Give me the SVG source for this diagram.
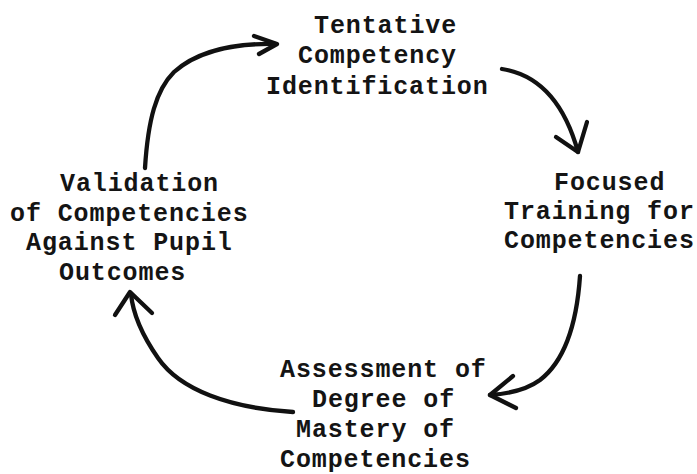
<svg xmlns="http://www.w3.org/2000/svg" width="697" height="474" viewBox="0 0 697 474">
  <style>
    .lbl { font-family: "Liberation Mono", "DejaVu Sans Mono", monospace; font-weight: bold; font-size: 25px; letter-spacing: 0.9px; fill: #141414; }
    .edge { fill: none; stroke: #111; stroke-width: 4.3; stroke-linecap: round; stroke-linejoin: round; }
    .head { fill: none; stroke: #111; stroke-width: 4.3; stroke-linecap: round; stroke-linejoin: round; }
  </style>
  <rect width="697" height="474" fill="#ffffff"/>

  <!-- cycle stages -->
  <g id="node-identification">
    <text class="lbl" x="314" y="33">Tentative</text>
    <text class="lbl" x="298" y="63">Competency</text>
    <text class="lbl" x="266" y="94">Identification</text>
  </g>
  <g id="node-training">
    <text class="lbl" x="554" y="190">Focused</text>
    <text class="lbl" x="504" y="219">Training for</text>
    <text class="lbl" x="504" y="248">Competencies</text>
  </g>
  <g id="node-assessment">
    <text class="lbl" x="280" y="377">Assessment of</text>
    <text class="lbl" x="312" y="407">Degree of</text>
    <text class="lbl" x="296" y="437">Mastery of</text>
    <text class="lbl" x="280" y="467">Competencies</text>
  </g>
  <g id="node-validation">
    <text class="lbl" x="60" y="191">Validation</text>
    <text class="lbl" x="10" y="221">of Competencies</text>
    <text class="lbl" x="26" y="250">Against Pupil</text>
    <text class="lbl" x="59" y="280">Outcomes</text>
  </g>

  <!-- curved arrows joining the stages -->
  <g id="connectors">
    <!-- validation -> identification -->
    <path class="edge" d="M145,168 C148,120 156,90 174,72 C194,54 228,43 275,44"/>
    <path class="head" d="M254,36 L277,44 L259,54"/>
    <!-- identification -> training -->
    <path class="edge" d="M502,69 C540,75 565,105 578,152"/>
    <path class="head" d="M587,122 L578,152 L556,137"/>
    <!-- training -> assessment -->
    <path class="edge" d="M580,276 C577,320 566,360 540,380 C525,391 505,394 490,395"/>
    <path class="head" d="M513,376 L490,395 L516,408"/>
    <!-- assessment -> validation -->
    <path class="edge" d="M293,412 C230,408 180,390 158,358 C142,335 133,315 131,294"/>
    <path class="head" d="M115,315 L130,292 L152,313"/>
  </g>
</svg>
